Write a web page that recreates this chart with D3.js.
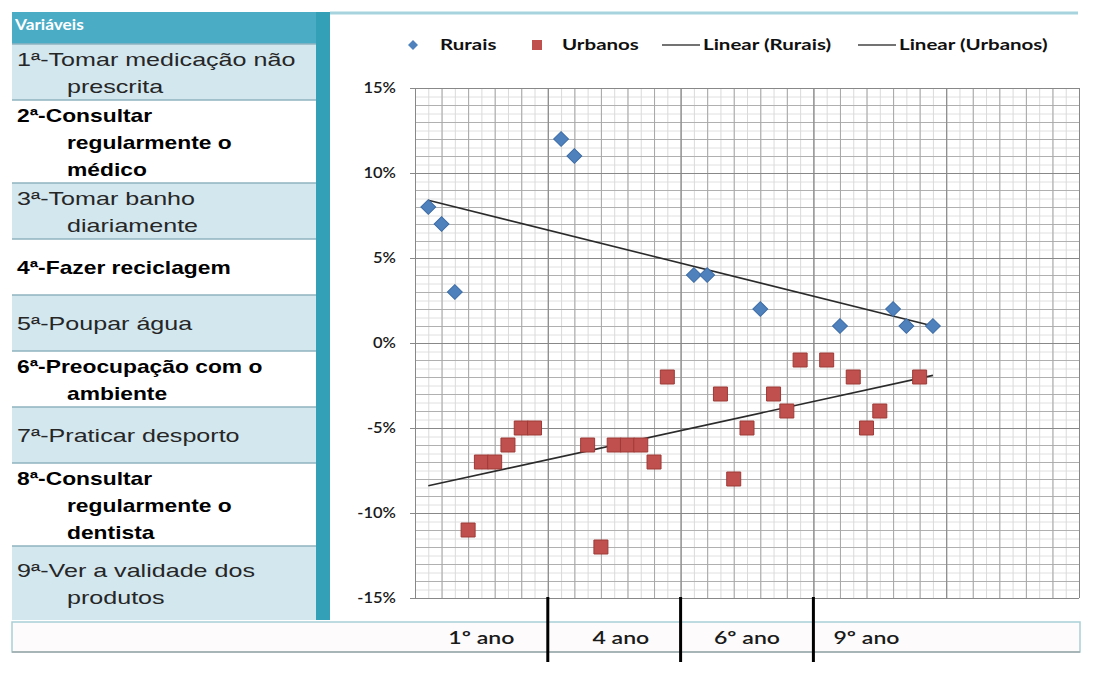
<!DOCTYPE html>
<html>
<head>
<meta charset="utf-8">
<title>Rurais vs Urbanos</title>
<script src="https://d3js.org/d3.v7.min.js"></script>
<style>
  body { margin: 0; background: #fff; }
  .tbl { font-family: "Liberation Sans", Arial, sans-serif; font-size: 19px; }
  .lbl { font-family: Lato, "Open Sans", sans-serif; }
</style>
</head>
<body>
<svg width="1097" height="687"></svg>
<script>
// --- data ---
var variaveis = [
  ["1ª-Tomar medicação não", "prescrita"],
  ["2ª-Consultar", "regularmente o", "médico"],
  ["3ª-Tomar banho", "diariamente"],
  ["4ª-Fazer reciclagem"],
  ["5ª-Poupar água"],
  ["6ª-Preocupação com o", "ambiente"],
  ["7ª-Praticar desporto"],
  ["8ª-Consultar", "regularmente o", "dentista"],
  ["9ª-Ver a validade dos", "produtos"]
];
var anos = ["1º ano", "4 ano", "6º ano", "9º ano"];
var anoPos = [2.5, 7.75, 12.5, 17];
var separadores = [5, 10, 15];

var ruraisX = [0.5, 1, 1.5, 5.5, 6, 10.5, 11, 13, 16, 18, 18.5, 19.5];
var ruraisY = [8, 7, 3, 12, 11, 4, 4, 2, 1, 2, 1, 1];
var urbanosX = [2, 2.5, 3, 3.5, 4, 4.5, 6.5, 7, 7.5, 8, 8.5, 9, 9.5, 11.5, 12, 12.5, 13.5, 14, 14.5, 15.5, 16.5, 17, 17.5, 19];
var urbanosY = [-11, -7, -7, -6, -5, -5, -6, -12, -6, -6, -6, -7, -2, -3, -8, -5, -3, -4, -1, -1, -2, -5, -4, -2];
var yTicks = [-15, -10, -5, 0, 5, 10, 15];
var legenda = ["Rurais", "Urbanos", "Linear (Rurais)", "Linear (Urbanos)"];

var svg = d3.select("svg");

// stretch text horizontally (the original picture is widened)
function stretch(sel, k) {
  sel.each(function() {
    var w = this.getComputedTextLength();
    d3.select(this).attr("textLength", w * k).attr("lengthAdjust", "spacingAndGlyphs");
  });
}

// --- left table ---
var tblX = 12, tblW = 304, tblTop = 44, tblBottom = 620;
var unitH = 28;
var rowY = [tblTop];
variaveis.forEach(function(v, i) {
  var h = Math.max(v.length, 2) * unitH - (v.length == 3 ? 1 : 0);
  rowY.push(i == variaveis.length - 1 ? tblBottom : rowY[i] + h);
});

svg.append("rect").attr("x", tblX).attr("y", 12).attr("width", tblW).attr("height", tblTop - 12).attr("fill", "#4bacc6");
var hdr = svg.append("text").attr("class", "lbl").attr("x", 15).attr("y", 30)
  .attr("fill", "#fff").attr("font-size", 15).attr("font-weight", 700).text("Variáveis");
stretch(hdr, 1.15);

var rows = svg.selectAll(".row").data(variaveis).enter().append("g").attr("class", "row tbl");
rows.append("rect")
  .attr("x", tblX).attr("y", function(d, i) { return rowY[i]; })
  .attr("width", tblW).attr("height", function(d, i) { return rowY[i + 1] - rowY[i]; })
  .attr("fill", function(d, i) { return i % 2 == 0 ? "#d3e7ef" : "#ffffff"; });
rows.append("line")
  .attr("x1", tblX).attr("x2", tblX + tblW)
  .attr("y1", function(d, i) { return rowY[i]; }).attr("y2", function(d, i) { return rowY[i]; })
  .attr("stroke", "#8fb3bf").attr("stroke-width", 1.5);

rows.each(function(lines, i) {
  var g = d3.select(this);
  var mid = (rowY[i] + rowY[i + 1]) / 2;
  var lh = 27;
  var bold = i % 2 == 1;
  lines.forEach(function(t, j) {
    var yy = mid + (j - (lines.length - 1) / 2) * lh + 7;
    var txt = g.append("text")
      .attr("x", j == 0 ? 17 : 67).attr("y", yy)
      .attr("fill", bold ? "#000" : "#262626")
      .attr("font-weight", bold ? 700 : 400)
      .text(t);
    stretch(txt, bold ? 1.2 : 1.32);
  });
});

// teal strip right of the table
svg.append("rect").attr("x", 316).attr("y", 12).attr("width", 14).attr("height", tblBottom - 12).attr("fill", "#33a0b7");

// plot panel top border
svg.append("line").attr("x1", 330).attr("x2", 1078).attr("y1", 13).attr("y2", 13)
  .attr("stroke", "#a6d3de").attr("stroke-width", 3);

// --- chart ---
var x = d3.scaleLinear().domain([0, 25]).range([415, 1079]);
var y = d3.scaleLinear().domain([-15, 15]).range([598, 88]);
var pw = x.range()[1] - x.range()[0], ph = y.range()[0] - y.range()[1];

var grid = svg.append("g");
grid.append("g").attr("transform", "translate(" + x(0) + ",0)")
  .call(d3.axisLeft(y).tickValues(d3.range(-15, 15.01, 0.5)).tickSize(-pw).tickFormat(""))
  .call(function(g) { g.select(".domain").remove(); g.selectAll("line").attr("stroke", "#e0e0e0"); });
grid.append("g").attr("transform", "translate(0," + y(-15) + ")")
  .call(d3.axisBottom(x).tickValues(d3.range(0, 25.01, 0.5)).tickSize(-ph).tickFormat(""))
  .call(function(g) { g.select(".domain").remove(); g.selectAll("line").attr("stroke", "#dadada"); });
grid.append("g").attr("transform", "translate(" + x(0) + ",0)")
  .call(d3.axisLeft(y).tickValues(d3.range(-15, 16, 1)).tickSize(-pw).tickFormat(""))
  .call(function(g) { g.select(".domain").remove(); g.selectAll("line").attr("stroke", "#b0b0b0"); });
grid.append("g").attr("transform", "translate(0," + y(-15) + ")")
  .call(d3.axisBottom(x).tickValues(d3.range(0, 26, 1)).tickSize(-ph).tickFormat(""))
  .call(function(g) { g.select(".domain").remove(); g.selectAll("line").attr("stroke", "#a8a8a8"); });
grid.append("g").attr("transform", "translate(0," + y(-15) + ")")
  .call(d3.axisBottom(x).tickValues(d3.range(0, 26, 5)).tickSize(-ph).tickFormat(""))
  .call(function(g) { g.select(".domain").remove(); g.selectAll("line").attr("stroke", "#888888"); });

// y axis with labels
var yAxis = svg.append("g").attr("transform", "translate(" + x(0) + ",0)")
  .call(d3.axisLeft(y).tickValues(yTicks).tickSize(6).tickSizeInner(-pw).tickPadding(20)
    .tickFormat(function(d) { return d + "%"; }));
yAxis.select(".domain").remove();
yAxis.selectAll("line").attr("stroke", "#888888").attr("x1", -5);
yAxis.selectAll("text").attr("class", "lbl").attr("font-size", 15).attr("font-weight", 600).attr("fill", "#1a1a1a")
  .attr("x", -19).each(function() { stretch(d3.select(this), 1.1); });

// trend lines (least squares)
function fit(xs, ys) {
  var mx = d3.mean(xs), my = d3.mean(ys);
  var sxy = d3.sum(xs, function(v, i) { return (v - mx) * (ys[i] - my); });
  var sxx = d3.sum(xs, function(v) { return (v - mx) * (v - mx); });
  var b = sxy / sxx;
  return function(v) { return my + b * (v - mx); };
}
var allX = ruraisX.concat(urbanosX);
var x0 = d3.min(allX), x1 = d3.max(allX);
[fit(ruraisX, ruraisY), fit(urbanosX, urbanosY)].forEach(function(f) {
  svg.append("line")
    .attr("x1", x(x0)).attr("y1", y(f(x0)))
    .attr("x2", x(x1)).attr("y2", y(f(x1)))
    .attr("stroke", "#2b2b2b").attr("stroke-width", 1.6);
});

// markers
var diamond = d3.symbol().type(d3.symbolSquare).size(110);
var square = d3.symbol().type(d3.symbolSquare).size(196);

svg.append("g").selectAll("path").data(urbanosX).enter().append("path")
  .attr("d", square)
  .attr("transform", function(d, i) { return "translate(" + x(d) + "," + y(urbanosY[i]) + ")"; })
  .attr("fill", "#c0504d").attr("stroke", "#9e3a37").attr("stroke-width", 1);

svg.append("g").selectAll("path").data(ruraisX).enter().append("path")
  .attr("d", diamond)
  .attr("transform", function(d, i) { return "translate(" + x(d) + "," + y(ruraisY[i]) + ") rotate(45)"; })
  .attr("fill", "#4f81bd").attr("stroke", "#3d6ca5").attr("stroke-width", 1);

// legend
var leg = svg.append("g").attr("class", "lbl");
var legX = [405, 530, 660, 856];
legenda.forEach(function(t, i) {
  var g = leg.append("g").attr("transform", "translate(" + legX[i] + ",45)");
  var tx = 35;
  if (i == 0) {
    g.append("path").attr("d", d3.symbol().type(d3.symbolSquare).size(50)).attr("transform", "translate(8,0) rotate(45)").attr("fill", "#4f81bd");
  } else if (i == 1) {
    g.append("path").attr("d", d3.symbol().type(d3.symbolSquare).size(100)).attr("transform", "translate(7,0)").attr("fill", "#c0504d");
    tx = 32;
  } else {
    g.append("line").attr("x1", 2).attr("x2", 40).attr("stroke", "#444").attr("stroke-width", 1.6);
    tx = 43;
  }
  var txt = g.append("text").attr("x", tx).attr("y", 5).attr("font-size", 16).attr("font-weight", 700).attr("fill", "#111").text(t);
  stretch(txt, 1.28);
});

// category band below
svg.append("rect").attr("x", 12).attr("y", 622).attr("width", 1068).attr("height", 30)
  .attr("fill", "#fdfbfc").attr("stroke", "#a9cfd7").attr("stroke-width", 1.5);
svg.append("line").attr("x1", 12).attr("x2", 1080).attr("y1", 652).attr("y2", 652).attr("stroke", "#a0a8aa").attr("stroke-width", 1.5);

svg.append("g").selectAll("text").data(anos).enter().append("text")
  .attr("class", "lbl")
  .attr("x", function(d, i) { return x(anoPos[i]); }).attr("y", 644)
  .attr("text-anchor", "middle").attr("font-size", 18).attr("font-weight", 600).attr("fill", "#1a1a1a")
  .text(function(d) { return d; })
  .each(function() { stretch(d3.select(this), 1.28); });

svg.append("g").selectAll("line").data(separadores).enter().append("line")
  .attr("x1", function(d) { return x(d); }).attr("x2", function(d) { return x(d); })
  .attr("y1", 597).attr("y2", 662)
  .attr("stroke", "#000").attr("stroke-width", 3);
</script>
</body>
</html>
